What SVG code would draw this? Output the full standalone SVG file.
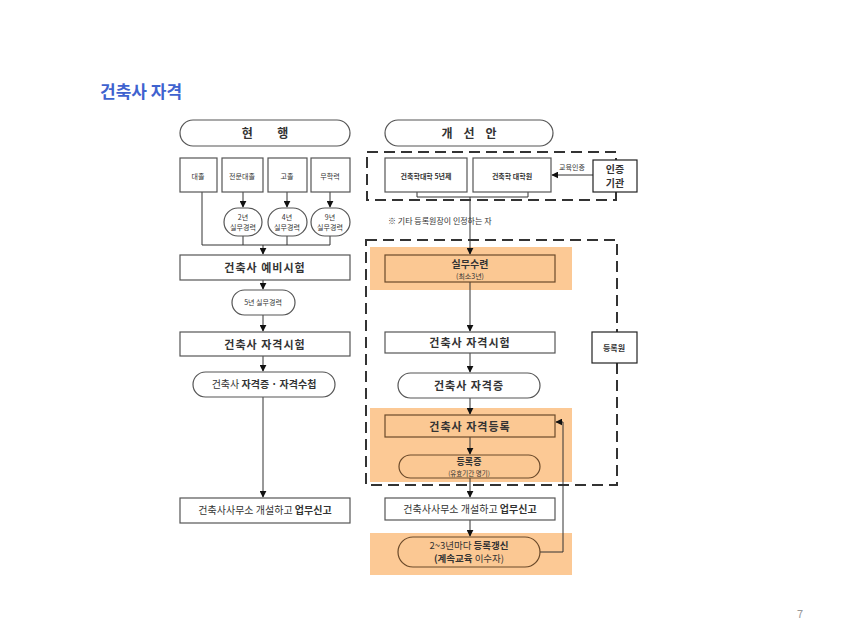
<svg xmlns="http://www.w3.org/2000/svg" width="855" height="643" viewBox="0 0 855 643">
<defs>
<marker id="ah" viewBox="0 0 10 10" refX="9" refY="5" markerWidth="7" markerHeight="7" orient="auto" markerUnits="userSpaceOnUse"><path d="M0,0 L10,5 L0,10 z" fill="#111"/></marker>
<style>
text{font-family:"Noto Sans CJK KR","Noto Sans",sans-serif;fill:#333;text-anchor:middle}
.box{fill:#fff;stroke:#555;stroke-width:1.2}
.obox{fill:#fbc893;stroke:#6b4a2a;stroke-width:1.2}
.band{fill:#fcc995;stroke:none}
.dash{fill:none;stroke:#333;stroke-width:2;stroke-dasharray:11 6}
.ln{fill:none;stroke:#333;stroke-width:1}
.b{font-weight:bold}
.s{font-size:10px}
.m{font-size:11px}
.xs{font-size:7px}
</style>
</defs>
<rect width="855" height="643" fill="#fff"/>
<text x="100" y="98" style="font-size:17px;font-weight:bold;fill:#3f63cf;text-anchor:start">건축사 자격</text>
<text x="800" y="618" style="font-size:11px;fill:#999">7</text>

<!-- bands -->
<rect class="band" x="370" y="247" width="202" height="43"/>
<rect class="band" x="370" y="408" width="202" height="74"/>
<rect class="band" x="370" y="533" width="202" height="42"/>

<!-- dashed groups -->
<rect class="dash" x="367" y="152" width="249" height="48"/>
<rect class="dash" x="366" y="240" width="251" height="245"/>

<g id="connectors">
<path class="ln" d="M202,192 V245 H330"/>
<path class="ln" d="M243,236 V245 M287,236 V245 M330,236 V245"/>
<path class="ln" d="M243,192 V207" marker-end="url(#ah)"/>
<path class="ln" d="M287,192 V207" marker-end="url(#ah)"/>
<path class="ln" d="M330,192 V207" marker-end="url(#ah)"/>
<path class="ln" d="M263,245 V254" marker-end="url(#ah)"/>
<path class="ln" d="M263,280 V289" marker-end="url(#ah)"/>
<path class="ln" d="M263,315 V331" marker-end="url(#ah)"/>
<path class="ln" d="M263,356 V371" marker-end="url(#ah)"/>
<path class="ln" d="M263,397 V497" marker-end="url(#ah)"/>
<path class="ln" d="M417,192 V197 H528 V192"/>
<path class="ln" d="M470,197 V254" marker-end="url(#ah)"/>
<path class="ln" d="M593,175 H552" marker-end="url(#ah)"/>
<path class="ln" d="M470,282 V331" marker-end="url(#ah)"/>
<path class="ln" d="M470,353 V372" marker-end="url(#ah)"/>
<path class="ln" d="M470,398 V414" marker-end="url(#ah)"/>
<path class="ln" d="M470,437 V454" marker-end="url(#ah)"/>
<path class="ln" d="M470,478 V497" marker-end="url(#ah)"/>
<path class="ln" d="M470,520 V536" marker-end="url(#ah)"/>
<path class="ln" d="M540,552 H563 V422 H556" marker-end="url(#ah)"/>
<text x="572" y="170" class="xs">교육인증</text>
</g>

<!-- left column -->
<g id="cur-title"><rect class="box" x="180" y="120" width="170" height="26" rx="13"/><text x="265" y="138" class="b" style="font-size:12px">현&#160;&#160;&#160;&#160;&#160;&#160;&#160;&#160;&#160;행</text></g>
<g id="n-daejol"><rect class="box" x="180" y="158" width="37" height="34"/><text x="198" y="179" class="xs">대졸</text></g>
<g id="n-jeonmun"><rect class="box" x="222" y="158" width="41" height="34"/><text x="242" y="179" class="xs">전문대졸</text></g>
<g id="n-gojol"><rect class="box" x="268" y="158" width="39" height="34"/><text x="287" y="179" class="xs">고졸</text></g>
<g id="n-muhak"><rect class="box" x="311" y="158" width="39" height="34"/><text x="330" y="179" class="xs">무학력</text></g>
<g id="n-2y"><rect class="box" x="224" y="208" width="38" height="28" rx="14"/><text x="243" y="220" class="xs">2년</text><text x="243" y="230" class="xs">실무경력</text></g>
<g id="n-4y"><rect class="box" x="268" y="208" width="39" height="28" rx="14"/><text x="287" y="220" class="xs">4년</text><text x="287" y="230" class="xs">실무경력</text></g>
<g id="n-9y"><rect class="box" x="311" y="208" width="39" height="28" rx="14"/><text x="330" y="220" class="xs">9년</text><text x="330" y="230" class="xs">실무경력</text></g>
<g id="n-prelim"><rect class="box" x="180" y="255" width="170" height="25"/><text x="265" y="272" class="b m" style="letter-spacing:1px">건축사 예비시험</text></g>
<g id="n-5y"><rect class="box" x="232" y="290" width="63" height="25" rx="12.5"/><text x="263" y="305" class="xs">5년 실무경력</text></g>
<g id="n-exam-l"><rect class="box" x="180" y="332" width="170" height="24"/><text x="265" y="349" class="b m" style="letter-spacing:1px">건축사 자격시험</text></g>
<g id="n-cert-l"><rect class="box" x="193" y="372" width="142" height="25" rx="12.5"/><text x="264" y="388" class="s">건축사 <tspan class="b">자격증 · 자격수첩</tspan></text></g>
<g id="n-office-l"><rect class="box" x="180" y="498" width="170" height="25"/><text x="265" y="514" class="s">건축사사무소 개설하고 <tspan class="b">업무신고</tspan></text></g>

<!-- right column -->
<g id="new-title"><rect class="box" x="385" y="120" width="168" height="26" rx="13"/><text x="469" y="138" class="b" style="font-size:12px">개&#160;&#160;&#160;&#160;선&#160;&#160;&#160;&#160;안</text></g>
<g id="n-univ5"><rect class="box" x="385" y="158" width="82" height="34"/><text x="426" y="179" class="b xs">건축학대학 5년제</text></g>
<g id="n-grad"><rect class="box" x="473" y="158" width="78" height="34"/><text x="512" y="179" class="b xs">건축학 대학원</text></g>
<g id="n-accr"><rect class="box" x="593" y="160" width="44" height="32" stroke-width="1.5" style="stroke:#222"/><text x="615" y="173" class="b s">인증</text><text x="615" y="187" class="b s">기관</text></g>
<text x="388" y="224" class="xs" style="text-anchor:start;font-size:8px">※ 기타 등록원장이 인정하는 자</text>
<g id="n-train"><rect class="obox" x="385" y="255" width="170" height="27"/><text x="470" y="268" class="b s">실무수련</text><text x="470" y="279" class="xs">(최소3년)</text></g>
<g id="n-exam-r"><rect class="box" x="385" y="332" width="170" height="21"/><text x="470" y="347" class="b m" style="letter-spacing:1px">건축사 자격시험</text></g>
<g id="n-registry"><rect class="box" x="592" y="332" width="45" height="31" stroke-width="1.5" style="stroke:#222"/><text x="614" y="351" class="b xs" style="font-size:8px">등록원</text></g>
<g id="n-cert-r"><rect class="box" x="398" y="373" width="142" height="25" rx="12.5"/><text x="469" y="390" class="b m" style="letter-spacing:1px">건축사 자격증</text></g>
<g id="n-reg"><rect class="obox" x="385" y="415" width="170" height="22"/><text x="470" y="431" class="b m" style="letter-spacing:1px">건축사 자격등록</text></g>
<g id="n-regcert"><rect class="obox" x="399" y="455" width="141" height="23" rx="11.5"/><text x="469" y="465" class="b" style="font-size:9px">등록증</text><text x="469" y="476" style="font-size:6.5px">(유효기간 명기)</text></g>
<g id="n-office-r"><rect class="box" x="385" y="498" width="170" height="22"/><text x="470" y="513" class="s">건축사사무소 개설하고 <tspan class="b">업무신고</tspan></text></g>
<g id="n-renew"><rect class="obox" x="398" y="537" width="142" height="30" rx="15"/><text x="469" y="549" style="font-size:9.5px">2~3년마다 <tspan class="b">등록갱신</tspan></text><text x="469" y="562" style="font-size:9.5px"><tspan class="b">(계속교육</tspan> 이수자)</text></g>
</svg>
